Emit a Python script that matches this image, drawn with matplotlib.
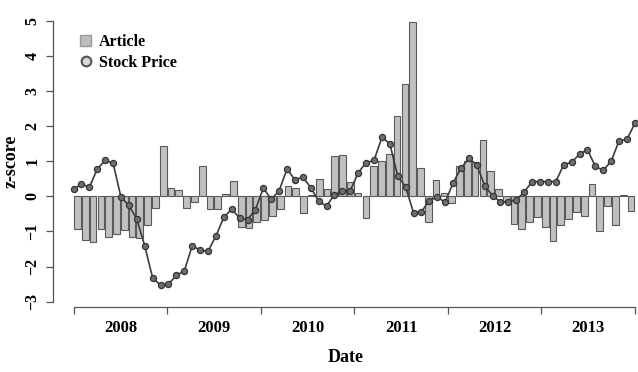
import numpy as np
import matplotlib
matplotlib.use("Agg")
import matplotlib.pyplot as plt
from matplotlib.patches import Patch
from matplotlib.lines import Line2D

plt.rcParams['font.family'] = ['Liberation Serif', 'DejaVu Serif']
plt.rcParams['font.weight'] = 'bold'

years = ['2008', '2009', '2010', '2011', '2012', '2013']

# monthly article z-scores (bars), Jan 2008 .. Dec 2013
article = [
    -0.92, -1.25, -1.30, -0.92, -1.16, -1.07, -0.95, -1.16, -1.20, -0.83, -0.34, 1.43,
    0.25, 0.19, -0.34, -0.15, 0.87, -0.35, -0.35, 0.07, 0.45, -0.87, -0.90, -0.73,
    -0.68, -0.55, -0.35, 0.30, 0.25, -0.48, 0.05, 0.50, 0.20, 1.15, 1.17, 0.42,
    0.10, -0.62, 0.87, 1.00, 1.20, 2.28, 3.20, 4.96, 0.82, -0.74, 0.47, 0.10,
    -0.20, 0.85, 1.00, 0.97, 1.60, 0.72, 0.20, -0.15, -0.79, -0.93, -0.74, -0.60,
    -0.88, -1.26, -0.83, -0.64, -0.45, -0.55, 0.35, -0.98, -0.27, -0.83, 0.03, -0.41,
]

# monthly stock price z-scores (line)
stock = [
    0.20, 0.35, 0.26, 0.78, 1.02, 0.94, -0.03, -0.26, -0.65, -1.41, -2.32, -2.53,
    -2.50, -2.25, -2.13, -1.41, -1.53, -1.57, -1.13, -0.60, -0.36, -0.62, -0.66, -0.38,
    0.24, -0.09, 0.16, 0.78, 0.47, 0.55, 0.25, -0.14, -0.28, 0.05, 0.14, 0.16,
    0.67, 0.96, 1.02, 1.68, 1.50, 0.58, 0.27, -0.47, -0.44, -0.12, -0.02, -0.17,
    0.38, 0.80, 1.08, 0.90, 0.30, 0.02, -0.16, -0.15, -0.10, 0.12, 0.42, 0.42,
    0.42, 0.42, 0.90, 0.97, 1.20, 1.33, 0.85, 0.74, 1.00, 1.58, 1.62, 2.08,
]

n = len(article)
bar_x = np.arange(n) + 0.5
line_x = np.linspace(0, n, len(stock))

fig = plt.figure(figsize=(6.38, 3.72), dpi=100)
ax = fig.add_axes([53 / 638, 1 - 307 / 372, 585 / 638, (307 - 15.4) / 372])

ax.bar(bar_x, article, width=0.86, color='#c0c0c0', edgecolor='#5a5a5a', linewidth=0.8, zorder=2)
ax.plot(line_x, stock, color='#3c3c3c', linewidth=1.2, marker='o', markersize=4.4,
        markerfacecolor='#6e6e6e', markeredgecolor='#333333', markeredgewidth=0.9, zorder=3)

ax.set_xlim(-2.64, n + 0.4)
ax.set_ylim(-3.15, 5.15)

for s in ['top', 'right']:
    ax.spines[s].set_visible(False)
ax.spines['left'].set_bounds(-3, 5)
ax.spines['bottom'].set_bounds(0, n)
for s in ['left', 'bottom']:
    ax.spines[s].set_color('#555555')
    ax.spines[s].set_linewidth(0.9)

ax.set_yticks(range(-3, 6))
ax.set_yticklabels([str(v).replace('-', '\u2212') for v in range(-3, 6)],
                   rotation=90, va='center', fontsize=11.5, fontweight='bold')
ax.set_xticks(np.arange(0, n + 1, 12))
ax.set_xticklabels([])
ax.set_xticks(np.arange(6, n, 12), minor=True)
ax.set_xticklabels(years, minor=True, fontsize=12, fontweight='bold')
ax.tick_params(axis='x', which='minor', length=0, pad=9)
ax.tick_params(axis='both', which='major', length=5, width=0.9, color='#555555')
ax.tick_params(axis='y', pad=4)

ax.set_xlabel('Date', fontsize=13, fontweight='bold', labelpad=10)
ax.set_ylabel('z-score', fontsize=13, fontweight='bold', va='center')
ax.yaxis.set_label_coords(-42 / 585, 0.5)

handles = [
    Patch(facecolor='#bdbdbd', edgecolor='#9a9a9a', label='Article'),
    Line2D([], [], linestyle='none', marker='o', markersize=7, markerfacecolor='#d8d8d8',
           markeredgecolor='#555555', markeredgewidth=1.5, label='Stock Price'),
]
ax.legend(handles=handles, loc='upper left', bbox_to_anchor=(72 / 638, 1 - 26 / 372),
          bbox_transform=fig.transFigure, frameon=False, handlelength=0.7,
          handletextpad=0.5, labelspacing=0.3, borderpad=0, prop={'size': 11.5, 'weight': 'bold'})

fig.savefig('out.png', dpi=100)
